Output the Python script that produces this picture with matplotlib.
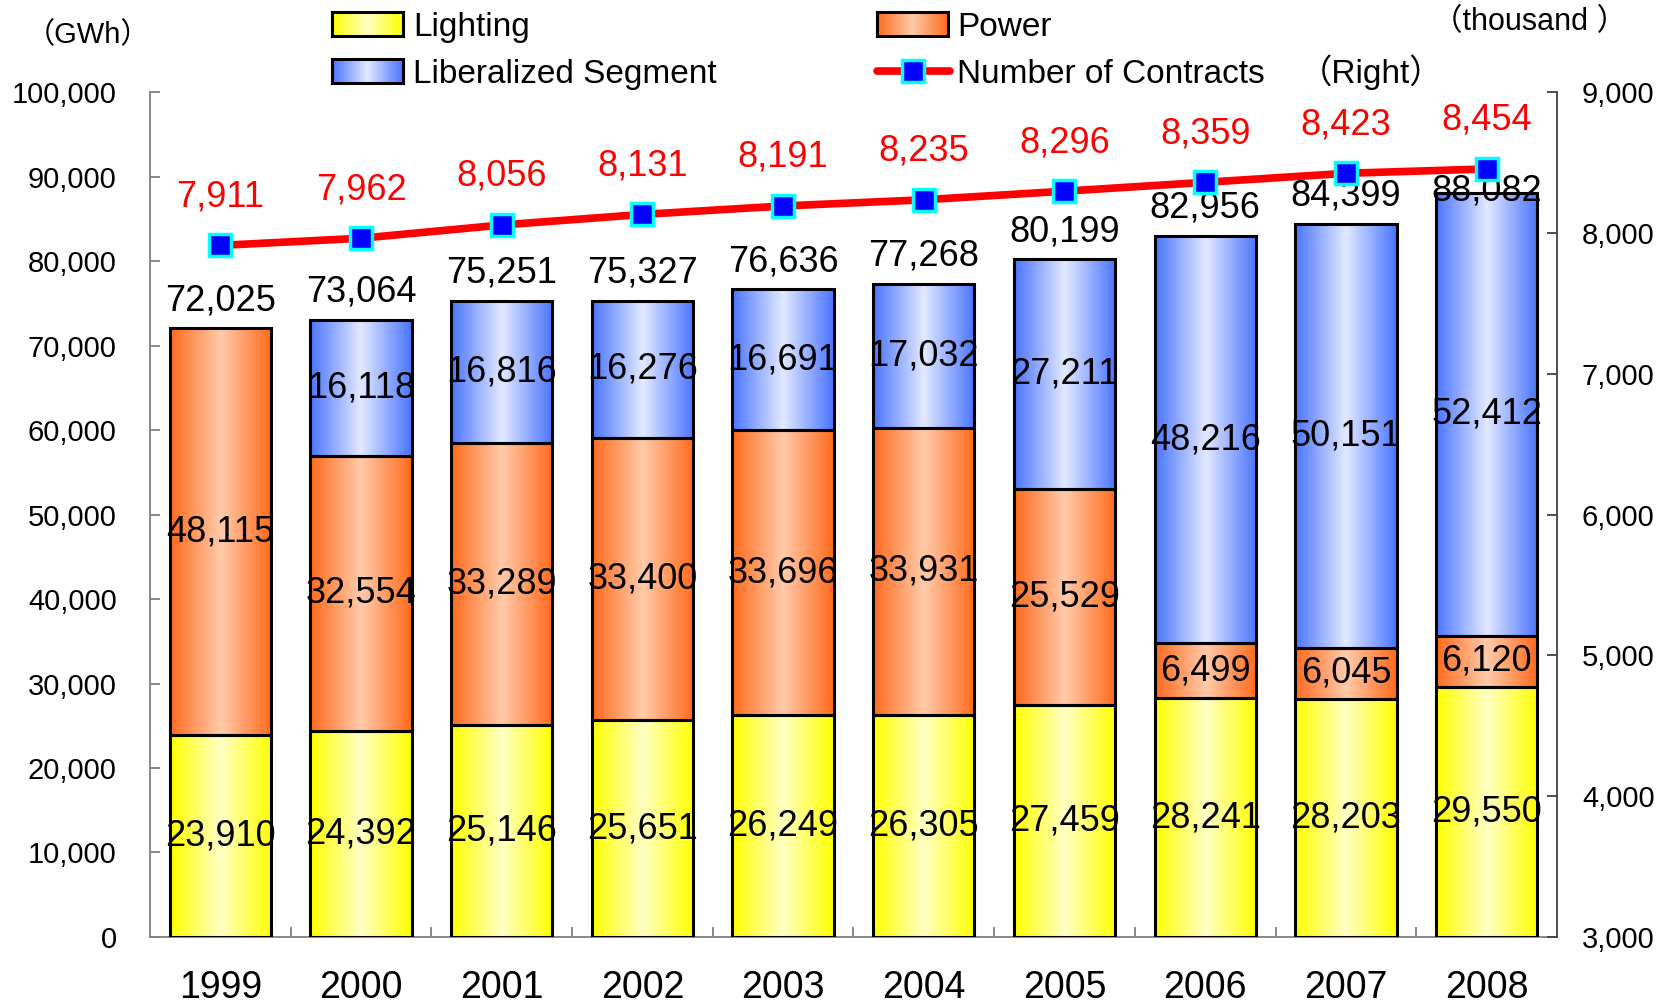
"""Electricity demand by segment (stacked bars) with number of contracts (line, right axis)."""
import numpy as np
import matplotlib
matplotlib.use("Agg")
import matplotlib.pyplot as plt
from matplotlib.colors import LinearSegmentedColormap
from matplotlib.lines import Line2D
from matplotlib.ticker import FuncFormatter, MultipleLocator

YEARS = ["1999", "2000", "2001", "2002", "2003", "2004", "2005", "2006", "2007", "2008"]
LIGHTING = [23910, 24392, 25146, 25651, 26249, 26305, 27459, 28241, 28203, 29550]
POWER = [48115, 32554, 33289, 33400, 33696, 33931, 25529, 6499, 6045, 6120]
LIBERALIZED = [0, 16118, 16816, 16276, 16691, 17032, 27211, 48216, 50151, 52412]
TOTALS = [72025, 73064, 75251, 75327, 76636, 77268, 80199, 82956, 84399, 88082]
CONTRACTS = [7911, 7962, 8056, 8131, 8191, 8235, 8296, 8359, 8423, 8454]

FONT = ["Liberation Sans", "Noto Sans CJK JP", "DejaVu Sans"]
plt.rcParams["font.family"] = FONT

# edge colour, centre highlight
GRAD = {
    "Lighting": ("#FFFF00", "#FFFFC4"),
    "Power": ("#FF6A1C", "#FFCBAA"),
    "Liberalized Segment": ("#4A74FF", "#E2E9FF"),
}


def grad_cmap(name):
    edge, mid = GRAD[name]
    return LinearSegmentedColormap.from_list(name, [(0, edge), (0.5, mid), (1, edge)])


GRADIENT = np.linspace(0, 1, 256)[None, :]


def gradient_bars(ax, x, heights, bottoms, name, width=0.72):
    cmap = grad_cmap(name)
    bars = ax.bar(x, heights, width, bottom=bottoms, facecolor="none",
                  edgecolor="black", linewidth=2.2, zorder=3)
    for rect in bars:
        x0, y0 = rect.get_x(), rect.get_y()
        im = ax.imshow(GRADIENT, cmap=cmap, aspect="auto", interpolation="bilinear",
                       extent=[x0, x0 + rect.get_width(), y0, y0 + rect.get_height()],
                       zorder=2)
        im.set_clip_path(rect)
    return bars


def legend_box(fig, rect, name):
    lax = fig.add_axes(rect)
    lax.imshow(GRADIENT, cmap=grad_cmap(name), aspect="auto", interpolation="bilinear")
    lax.set_xticks([])
    lax.set_yticks([])
    for s in lax.spines.values():
        s.set_linewidth(2.2)
        s.set_color("black")


def main():
    fig = plt.figure(figsize=(16.7, 10.06), dpi=100)
    ax = fig.add_axes([0.0898, 0.0686, 0.8425, 0.8399])
    x = np.arange(len(YEARS))
    light = np.array(LIGHTING)
    power = np.array(POWER)
    lib = np.array(LIBERALIZED)

    gradient_bars(ax, x, light, 0, "Lighting")
    gradient_bars(ax, x, power, light, "Power")
    has_lib = lib > 0
    gradient_bars(ax, x[has_lib], lib[has_lib], (light + power)[has_lib], "Liberalized Segment")

    # segment labels
    for i in range(len(YEARS)):
        segs = [(light[i], 0), (power[i], light[i]), (lib[i], light[i] + power[i])]
        for v, b in segs:
            if v > 0:
                ax.text(x[i], b + v / 2, f"{v:,}", ha="center", va="center",
                        fontsize=26, zorder=5)
        dy = 1 if i == len(YEARS) - 1 else 20
        ax.annotate(f"{TOTALS[i]:,}", (x[i], TOTALS[i]), xytext=(0, dy),
                    textcoords="offset points", ha="center", va="center",
                    fontsize=26, zorder=6)

    ax.set_xlim(-0.5, len(YEARS) - 0.5)
    ax.set_ylim(0, 100000)
    ax.yaxis.set_major_locator(MultipleLocator(10000))
    ax.yaxis.set_major_formatter(FuncFormatter(lambda v, p: f"{int(v):,}"))
    ax.tick_params(axis="y", direction="in", length=7, width=1.3, color="#808080",
                   pad=24, labelsize=21)
    ax.set_xticks(x)
    ax.set_xticklabels(YEARS, fontsize=27)
    ax.set_xticks(x[:-1] + 0.5, minor=True)
    ax.tick_params(axis="x", which="major", length=0, pad=24)
    ax.tick_params(axis="x", which="minor", direction="in", length=7, width=1.3,
                   color="#808080")
    for s in ("top", "right"):
        ax.spines[s].set_visible(False)
    for s in ("left", "bottom"):
        ax.spines[s].set_color("#808080")
        ax.spines[s].set_linewidth(1.3)

    # contracts on right axis
    ax2 = ax.twinx()
    ax2.plot(x, CONTRACTS, color="red", linewidth=5.5, marker="s", markersize=16,
             markerfacecolor="#0000FF", markeredgecolor="#00FFFF", markeredgewidth=2.5,
             zorder=4)
    for i, v in enumerate(CONTRACTS):
        ax2.annotate(f"{v:,}", (x[i], v), xytext=(0, 35), textcoords="offset points",
                     ha="center", va="center", fontsize=26, color="red")
    ax2.set_ylim(3000, 9000)
    ax2.yaxis.set_major_locator(MultipleLocator(1000))
    ax2.yaxis.set_major_formatter(FuncFormatter(lambda v, p: f"{int(v):,}"))
    ax2.tick_params(axis="y", direction="in", length=7, width=1.3, color="#404040",
                    pad=18, labelsize=21)
    for s in ("top", "left", "bottom"):
        ax2.spines[s].set_visible(False)
    ax2.spines["right"].set_color("#404040")
    ax2.spines["right"].set_linewidth(1.3)

    # legend, drawn by hand to keep the gradient swatches
    legend_box(fig, [0.1988, 0.9642, 0.0425, 0.0239], "Lighting")
    legend_box(fig, [0.1988, 0.9175, 0.0425, 0.0239], "Liberalized Segment")
    legend_box(fig, [0.5251, 0.9642, 0.0425, 0.0239], "Power")
    fig.add_artist(Line2D([0.5251, 0.5686], [0.9294, 0.9294], transform=fig.transFigure,
                          color="red", linewidth=5.5, solid_capstyle="round"))
    fig.add_artist(Line2D([0.5468], [0.9294], transform=fig.transFigure, marker="s",
                          markersize=16, markerfacecolor="#0000FF",
                          markeredgecolor="#00FFFF", markeredgewidth=2.5))
    fig.text(0.2473, 0.973, "Lighting", fontsize=24, va="center")
    fig.text(0.2473, 0.926, "Liberalized Segment", fontsize=24, va="center")
    fig.text(0.5731, 0.973, "Power", fontsize=24, va="center")
    fig.text(0.5731, 0.926, "Number of Contracts", fontsize=24, va="center")

    fig.text(0.0527, 0.965, "（GWh）", fontsize=21, ha="center", va="center")
    fig.text(0.916, 0.978, "（thousand ）", fontsize=22, ha="center", va="center")
    fig.text(0.821, 0.928, "（Right）", fontsize=24, ha="center", va="center")

    fig.savefig("out.png", dpi=100)


if __name__ == "__main__":
    main()
